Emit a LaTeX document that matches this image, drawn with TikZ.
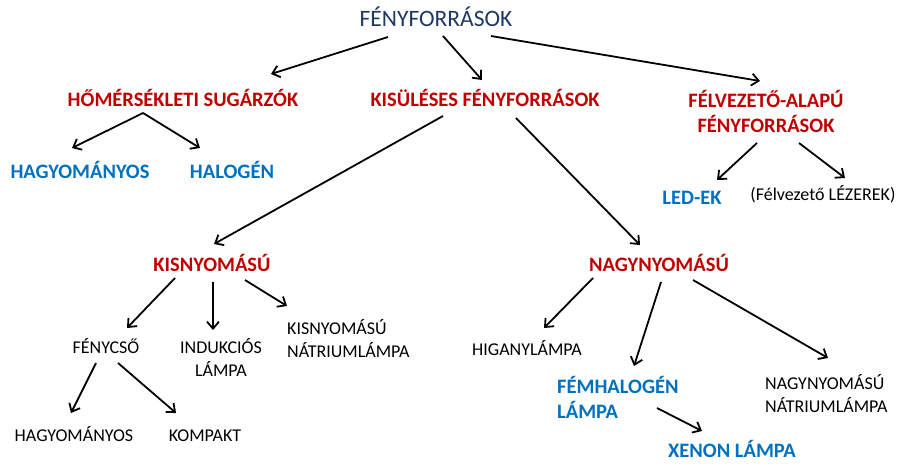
\documentclass[tikz,border=0pt]{standalone}
\usepackage{fontspec}
\setmainfont{Carlito}
\usetikzlibrary{arrows.meta}
\definecolor{titleblue}{HTML}{1F3864}
\definecolor{catred}{HTML}{C00000}
\definecolor{kindblue}{HTML}{0070C0}

\begin{document}
\begin{tikzpicture}[x=1pt,y=-1pt,
  title/.style={font=\fontsize{23.5}{27}\selectfont,text=titleblue,inner sep=0pt,anchor=base},
  cat/.style={font=\fontsize{20.5}{25}\selectfont\bfseries,text=catred,inner sep=0pt,anchor=base,align=center},
  kind/.style={font=\fontsize{20.5}{25}\selectfont\bfseries,text=kindblue,inner sep=0pt,anchor=base,align=left},
  item/.style={font=\fontsize{18}{23}\selectfont,text=black,inner sep=0pt,anchor=base,align=center},
  arrow/.style={-{Straight Barb[length=7pt,width=12pt]},line width=1.8pt,black},
]
\useasboundingbox (0,0) rectangle (900,464);
% TOP LEVEL (multi-line nodes sit on their last line)
\node[title] (src) at (436,26) {FÉNYFORRÁSOK};
\node[cat] (hom) at (183,106) {HŐMÉRSÉKLETI SUGÁRZÓK};
\node[cat] (kis) at (485,106) {KISÜLÉSES FÉNYFORRÁSOK};
\node[cat] (fel) at (766,132) {FÉLVEZETŐ-ALAPÚ\\FÉNYFORRÁSOK};

% THERMAL + SEMICONDUCTOR
\node[kind] (hagy) at (80,178) {HAGYOMÁNYOS};
\node[kind] (hal) at (232,178) {HALOGÉN};
\node[kind] (led) at (692,204) {LED-EK};
\node[item] (lez) at (823,200) {(Félvezető LÉZEREK)};

% DISCHARGE
\node[cat] (kisny) at (212,271) {KISNYOMÁSÚ};
\node[cat] (nagyny) at (659,271) {NAGYNYOMÁSÚ};
\node[item] (fenycso) at (106,353) {FÉNYCSŐ};
\node[item] (induk) at (221,376) {INDUKCIÓS\\LÁMPA};
\node[item,anchor=base west,align=left] (kisnat) at (287,357) {KISNYOMÁSÚ\\NÁTRIUMLÁMPA};
\node[item] (hagyk) at (74,441) {HAGYOMÁNYOS};
\node[item] (komp) at (205,441) {KOMPAKT};
\node[item] (hig) at (527,355) {HIGANYLÁMPA};
\node[kind,anchor=base west] (fem) at (557,418) {FÉMHALOGÉN\\LÁMPA};
\node[item,anchor=base west,align=left] (nagynat) at (765,412) {NAGYNYOMÁSÚ\\NÁTRIUMLÁMPA};
\node[kind,anchor=base,align=center] (xenon) at (732,457) {XENON LÁMPA};

% EDGES
\draw[arrow] ([shift={(-48,11)}]src.base) -- ([shift={(88,-32)}]hom.base);
\draw[arrow] ([shift={(7,10)}]src.base) -- ([shift={(-3,-26)}]kis.base);
\draw[arrow] ([shift={(55,10)}]src.base) -- ([shift={(-6,-51)}]fel.base);
\draw[arrow] ([shift={(-40,7)}]hom.base) -- ([shift={(-8,-30)}]hagy.base);
\draw[arrow] ([shift={(-40,7)}]hom.base) -- ([shift={(-32,-30)}]hal.base);
\draw[arrow] ([shift={(-42,10)}]kis.base) -- ([shift={(2,-27)}]kisny.base);
\draw[arrow] ([shift={(31,12)}]kis.base) -- ([shift={(-19,-26)}]nagyny.base);
\draw[arrow] ([shift={(-9,11)}]fel.base) -- ([shift={(25,-24)}]led.base);
\draw[arrow] ([shift={(33,11)}]fel.base) -- ([shift={(22,-22)}]lez.base);
\draw[arrow] ([shift={(-37,7)}]kisny.base) -- ([shift={(21,-25)}]fenycso.base);
\draw[arrow] ([shift={(1,11)}]kisny.base) -- ([shift={(-8,-46)}]induk.base);
\draw[arrow] ([shift={(33,9)}]kisny.base) -- ([shift={(0,-51)}]kisnat.base west);
\draw[arrow] ([shift={(-10,10)}]fenycso.base) -- ([shift={(-3,-28)}]hagyk.base);
\draw[arrow] ([shift={(12,10)}]fenycso.base) -- ([shift={(-29,-28)}]komp.base);
\draw[arrow] ([shift={(-66,7)}]nagyny.base) -- ([shift={(17,-27)}]hig.base);
\draw[arrow] ([shift={(2,11)}]nagyny.base) -- ([shift={(77,-52)}]fem.base west);
\draw[arrow] ([shift={(34,9)}]nagyny.base) -- ([shift={(63,-54)}]nagynat.base west);
\draw[arrow] ([shift={(100,-10)}]fem.base west) -- ([shift={(-30,-26)}]xenon.base);
\end{tikzpicture}
\end{document}
